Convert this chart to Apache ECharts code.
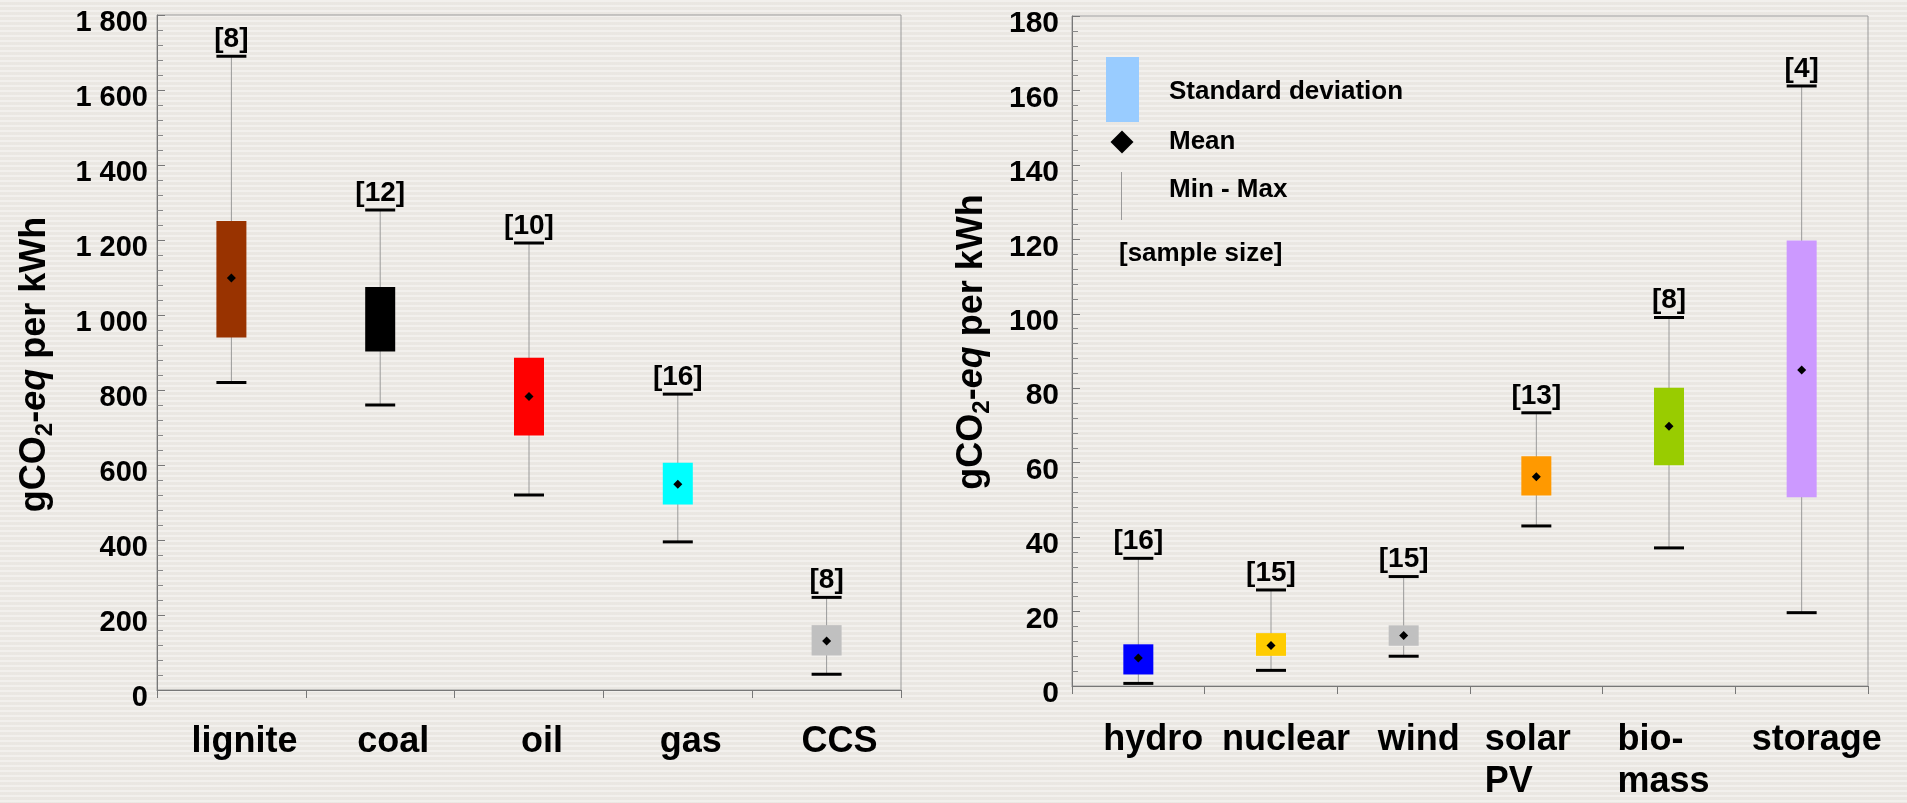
<!DOCTYPE html>
<html>
<head>
<meta charset="utf-8">
<script src="https://cdn.jsdelivr.net/npm/echarts@6/dist/echarts.min.js"></script>
<style>
  html, body { margin: 0; padding: 0; width: 1907px; height: 803px; overflow: hidden;
    background: #EDEAE5 repeating-linear-gradient(to bottom,
      rgba(255,255,255,0.30) 0px, rgba(255,255,255,0.30) 2px,
      rgba(0,0,0,0.012) 2px, rgba(0,0,0,0.012) 5px); }
  #chart { width: 1907px; height: 803px; }
</style>
</head>
<body>
<div id="chart"></div>
<script>
// Life-cycle emissions, gCO2-eq per kWh
// Fossil technologies
const fossilCategories = ['lignite', 'coal', 'oil', 'gas', 'CCS'];
const fossilMin      = [820, 760, 520, 395, 42];
const fossilSdLow    = [940, 903, 679, 495, 92];
const fossilMean     = [1099, 990, 783, 549, 131];
const fossilSdHigh   = [1251, 1075, 886, 606, 173];
const fossilMax      = [1690, 1280, 1192, 789, 247];
const fossilSamples  = [8, 12, 10, 16, 8];
const fossilTicks    = [0, 200, 400, 600, 800, 1000, 1200, 1400, 1600, 1800];

// Renewable / low-carbon technologies
const lowCarbonCategories = ['hydro', 'nuclear', 'wind', 'solar\nPV', 'bio-\nmass', 'storage'];
const lowCarbonMin     = [0.7, 4.2, 8.0, 43.0, 37.1, 19.7];
const lowCarbonSdLow   = [3.1, 8.1, 10.8, 51.2, 59.3, 50.7];
const lowCarbonMean    = [7.5, 10.9, 13.6, 56.2, 69.8, 84.9];
const lowCarbonSdHigh  = [11.2, 14.2, 16.3, 61.7, 80.1, 119.7];
const lowCarbonMax     = [34.3, 25.8, 29.4, 73.4, 99.0, 161.2];
const lowCarbonSamples = [16, 15, 15, 13, 8, 4];
const lowCarbonTicks   = [0, 20, 40, 60, 80, 100, 120, 140, 160, 180];

const fossilColors    = ['#993300', '#000000', '#FF0000', '#00FFFF', '#C0C0C0'];
const lowCarbonColors = ['#0000FF', '#FFCC00', '#C0C0C0', '#FF9900', '#99CC00', '#CC99FF'];

const FONT = '"Liberation Sans", Arial, Helvetica, sans-serif';
const BOX_W = 30;

function rows(cats, mn, lo, mean, hi, mx, n) {
  return cats.map((c, i) => [i, mn[i], lo[i], mean[i], hi[i], mx[i], n[i]]);
}

function boxRenderer(colors) {
  return function (params, api) {
    const i = api.value(0);
    const pMin = api.coord([i, api.value(1)]);
    const pLo = api.coord([i, api.value(2)]);
    const pMean = api.coord([i, api.value(3)]);
    const pHi = api.coord([i, api.value(4)]);
    const pMax = api.coord([i, api.value(5)]);
    const x = pMax[0];
    const h = BOX_W / 2;
    const d = 4.5;
    return {
      type: 'group',
      children: [
        { type: 'line', shape: { x1: x, y1: pMax[1], x2: x, y2: pMin[1] },
          style: { stroke: '#9a9a9a', lineWidth: 1 } },
        { type: 'rect', shape: { x: x - h, y: pHi[1], width: BOX_W, height: pLo[1] - pHi[1] },
          style: { fill: colors[params.dataIndex] } },
        { type: 'line', shape: { x1: x - h, y1: pMax[1], x2: x + h, y2: pMax[1] },
          style: { stroke: '#000', lineWidth: 3 } },
        { type: 'line', shape: { x1: x - h, y1: pMin[1], x2: x + h, y2: pMin[1] },
          style: { stroke: '#000', lineWidth: 3 } },
        { type: 'polygon', shape: { points: [[x, pMean[1] - d], [x + d, pMean[1]], [x, pMean[1] + d], [x - d, pMean[1]]] },
          style: { fill: '#000' } },
        { type: 'text',
          style: { x: x, y: pMax[1] - 3, text: '[' + api.value(6) + ']',
            fontFamily: FONT, fontWeight: 'bold', fontSize: 28, fill: '#000',
            align: 'center', verticalAlign: 'bottom' } }
      ]
    };
  };
}

const axisNameRich = {
  m: { fontSize: 36, fontWeight: 'bold', fontFamily: FONT, color: '#000', lineHeight: 44 },
  s: { fontSize: 24, fontWeight: 'bold', fontFamily: FONT, color: '#000', lineHeight: 32, verticalAlign: 'bottom' },
  i: { fontSize: 36, fontWeight: 'bold', fontStyle: 'italic', fontFamily: FONT, color: '#000', lineHeight: 44 }
};
const axisName = '{m|gCO}{s|2}{m|-}{i|eq}{m| per kWh}';

function valueAxis(gridIndex, ticks, labelSize, labelMargin, nameGap, namePad, fmt) {
  return {
    type: 'value', gridIndex: gridIndex,
    min: ticks[0], max: ticks[ticks.length - 1], interval: ticks[1] - ticks[0],
    name: axisName, nameLocation: 'middle', nameGap: nameGap, nameRotate: 90,
    nameTextStyle: { rich: axisNameRich, padding: namePad },
    axisLine: { show: true, lineStyle: { color: '#777', width: 1 } },
    axisTick: { show: true, inside: true, length: 8, lineStyle: { color: '#777' } },
    minorTick: { show: true, splitNumber: 5, length: 6, lineStyle: { color: '#888' } },
    splitLine: { show: false },
    axisLabel: { fontFamily: FONT, fontWeight: 'bold', fontSize: labelSize, color: '#000',
      margin: labelMargin, verticalAlign: 'top', lineHeight: 16, formatter: fmt }
  };
}

function categoryAxis(gridIndex, cats, padLeft, margin) {
  return {
    type: 'category', gridIndex: gridIndex, data: cats, boundaryGap: true,
    axisLine: { show: true, lineStyle: { color: '#777', width: 1 } },
    axisTick: { show: true, inside: false, length: 8, lineStyle: { color: '#777' } },
    splitLine: { show: false },
    axisLabel: {
      interval: 0, margin: margin, fontFamily: FONT, fontWeight: 'bold', fontSize: 36,
      lineHeight: 42, color: '#000', padding: [0, 0, 0, padLeft],
      formatter: function (v) {
        if (v.indexOf('\n') >= 0) {
          return v.split('\n').map(p => '{w|' + p + '}').join('\n');
        }
        return v;
      },
      rich: { w: { width: 133, align: 'left', fontFamily: FONT, fontWeight: 'bold', fontSize: 36, lineHeight: 42, color: '#000' } }
    }
  };
}

const chart = echarts.init(document.getElementById('chart'), null, { renderer: 'canvas' });

const legendFont = { fontFamily: FONT, fontWeight: 'bold', fontSize: 26, fill: '#000', verticalAlign: 'middle', align: 'left' };

chart.setOption({
  backgroundColor: 'transparent',
  animation: false,
  grid: [
    { left: 157, top: 15, width: 744, height: 675, show: true, borderColor: '#9a9a9a', borderWidth: 1, backgroundColor: 'transparent' },
    { left: 1072, top: 16, width: 796, height: 677, show: true, borderColor: '#9a9a9a', borderWidth: 1, backgroundColor: 'transparent' }
  ],
  xAxis: [
    categoryAxis(0, fossilCategories, 26, 31),
    categoryAxis(1, lowCarbonCategories, 30, 33)
  ],
  yAxis: [
    valueAxis(0, fossilTicks, 29, 9, 100, [0, 24, 0, 0], v => String(v).replace(/\B(?=(\d{3})+(?!\d))/g, ' ')),
    valueAxis(1, lowCarbonTicks, 30, 13, 78, [0, 0, 0, 18], v => String(v))
  ],
  series: [
    { type: 'custom', xAxisIndex: 0, yAxisIndex: 0, clip: false,
      renderItem: boxRenderer(fossilColors),
      encode: { x: 0, y: [1, 5] },
      data: rows(fossilCategories, fossilMin, fossilSdLow, fossilMean, fossilSdHigh, fossilMax, fossilSamples) },
    { type: 'custom', xAxisIndex: 1, yAxisIndex: 1, clip: false,
      renderItem: boxRenderer(lowCarbonColors),
      encode: { x: 0, y: [1, 5] },
      data: rows(lowCarbonCategories, lowCarbonMin, lowCarbonSdLow, lowCarbonMean, lowCarbonSdHigh, lowCarbonMax, lowCarbonSamples) }
  ],
  graphic: [
    { type: 'rect', shape: { x: 1106, y: 57, width: 33, height: 65 }, style: { fill: '#99CCFF' } },
    { type: 'polygon', shape: { points: [[1122, 130.5], [1133.5, 142], [1122, 153.5], [1110.5, 142]] }, style: { fill: '#000' } },
    { type: 'line', shape: { x1: 1121.5, y1: 172, x2: 1121.5, y2: 220 }, style: { stroke: '#9a9a9a', lineWidth: 1 } },
    { type: 'text', style: Object.assign({ x: 1169, y: 92, text: 'Standard deviation' }, legendFont) },
    { type: 'text', style: Object.assign({ x: 1169, y: 142, text: 'Mean' }, legendFont) },
    { type: 'text', style: Object.assign({ x: 1169, y: 190, text: 'Min - Max' }, legendFont) },
    { type: 'text', style: Object.assign({ x: 1119, y: 254, text: '[sample size]' }, legendFont) }
  ]
});
</script>
</body>
</html>
